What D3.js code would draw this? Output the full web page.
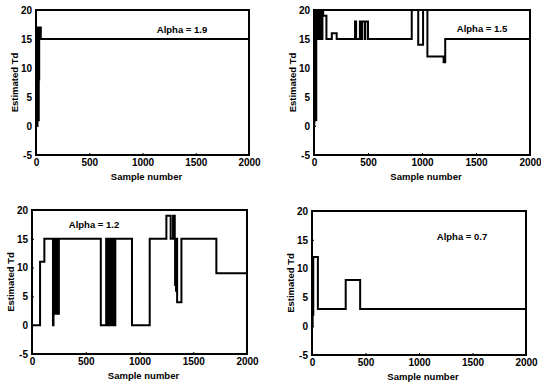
<!DOCTYPE html>
<html>
<head>
<meta charset="utf-8">
<script src="https://cdn.jsdelivr.net/npm/d3@7"></script>
<style>
  body { margin: 0; background: #fff; }
  svg { display: block; font-family: "Liberation Sans", Arial, sans-serif; }
  .axis text { font-size: 10px; font-weight: bold; fill: #000; }
  .axis path, .axis line { stroke: #000; }
  .frame { fill: none; stroke: #000; stroke-width: 2; }
  .trace { fill: none; stroke: #000; stroke-width: 2; }
  .lbl { font-size: 9.5px; font-weight: bold; fill: #000; }
</style>
</head>
<body>
<div id="chart"></div>
<script>
// x ticks / y ticks
const xTicks = [0, 500, 1000, 1500, 2000];
const yTicks = [-5, 0, 5, 10, 15, 20];
const alphaLabels = ["Alpha = 1.9", "Alpha = 1.5", "Alpha = 1.2", "Alpha = 0.7"];

// step series [sample, estimated Td]
const alpha19 = [
  [0, 0], [2, 17], [4, 1], [6, 17], [8, 3], [10, 17], [12, 0], [14, 16], [16, 2],
  [18, 17], [20, 5], [22, 17], [24, 1], [26, 17], [28, 8], [30, 17], [33, 15],
  [36, 17], [39, 15], [42, 17], [45, 15], [2000, 15]
];
const alpha15 = [
  [0, 0], [3, 20], [6, 2], [9, 20], [12, 5], [15, 20], [18, 1], [21, 20], [24, 15],
  [30, 20], [36, 15], [42, 20], [48, 15], [54, 20], [60, 15], [66, 20], [72, 15],
  [78, 20], [85, 19], [115, 15], [165, 16], [210, 15], [380, 18], [390, 15],
  [425, 18], [440, 15], [445, 18], [470, 15], [475, 18], [500, 15], [905, 20],
  [965, 14], [1010, 20], [1050, 12], [1200, 11], [1215, 15], [2000, 15]
];
const alpha12 = [
  [0, 0], [75, 11], [115, 15], [195, 0], [200, 15], [205, 2], [210, 15], [215, 2],
  [220, 15], [225, 2], [230, 15], [235, 2], [240, 15], [245, 2], [250, 15],
  [640, 0], [690, 15], [696, 0], [702, 15], [708, 0], [714, 15], [720, 0], [726, 15],
  [732, 0], [738, 15], [744, 0], [750, 15], [756, 0], [762, 15], [768, 0], [775, 15],
  [930, 0], [1095, 15], [1250, 19], [1290, 15], [1312, 19], [1328, 15], [1331, 7],
  [1336, 15], [1340, 6], [1345, 15], [1350, 4], [1390, 15], [1715, 9], [2000, 9]
];
const alpha07 = [
  [0, 0], [6, 2], [12, 12], [55, 3], [315, 8], [450, 3], [2000, 3]
];

const panels = [
  { series: alpha19, label: alphaLabels[0], box: [36, 10, 249, 155], lab: [182, 33] },
  { series: alpha15, label: alphaLabels[1], box: [314, 10, 530, 155], lab: [482, 32] },
  { series: alpha12, label: alphaLabels[2], box: [32, 210, 247, 354], lab: [94, 228] },
  { series: alpha07, label: alphaLabels[3], box: [312, 211, 526, 355], lab: [462, 240] }
];

const svg = d3.select("#chart").append("svg")
  .attr("width", 541)
  .attr("height", 384);

panels.forEach((p) => {
  const [l, t, r, b] = p.box;
  const x = d3.scaleLinear().domain([0, 2000]).range([l, r]);
  const y = d3.scaleLinear().domain([-5, 20]).range([b, t]);
  const g = svg.append("g");

  g.append("g")
    .attr("class", "axis")
    .attr("transform", `translate(0,${b})`)
    .call(d3.axisBottom(x).tickValues(xTicks).tickSize(-2).tickPadding(4).tickFormat(d3.format("d")))
    .call((a) => a.select(".domain").remove());

  g.append("g")
    .attr("class", "axis")
    .attr("transform", `translate(${l},0)`)
    .call(d3.axisLeft(y).tickValues(yTicks).tickSize(-2).tickPadding(4).tickFormat((v) => v < 0 ? "-" + (-v) : v))
    .call((a) => a.select(".domain").remove());

  g.append("path")
    .attr("class", "trace")
    .attr("d", d3.line().curve(d3.curveStepAfter).x((d) => x(d[0])).y((d) => y(d[1]))(p.series));

  g.append("rect")
    .attr("class", "frame")
    .attr("x", l).attr("y", t)
    .attr("width", r - l).attr("height", b - t);

  g.append("text")
    .attr("class", "lbl")
    .attr("x", (l + r) / 2 + 4)
    .attr("y", b + 25)
    .attr("text-anchor", "middle")
    .text("Sample  number");

  g.append("text")
    .attr("class", "lbl")
    .attr("transform", `translate(${l - 18},${(t + b) / 2}) rotate(-90)`)
    .attr("text-anchor", "middle")
    .text("Estimated  Td");

  g.append("text")
    .attr("class", "lbl")
    .attr("x", p.lab[0])
    .attr("y", p.lab[1])
    .attr("text-anchor", "middle")
    .text(p.label);
});
</script>
</body>
</html>
